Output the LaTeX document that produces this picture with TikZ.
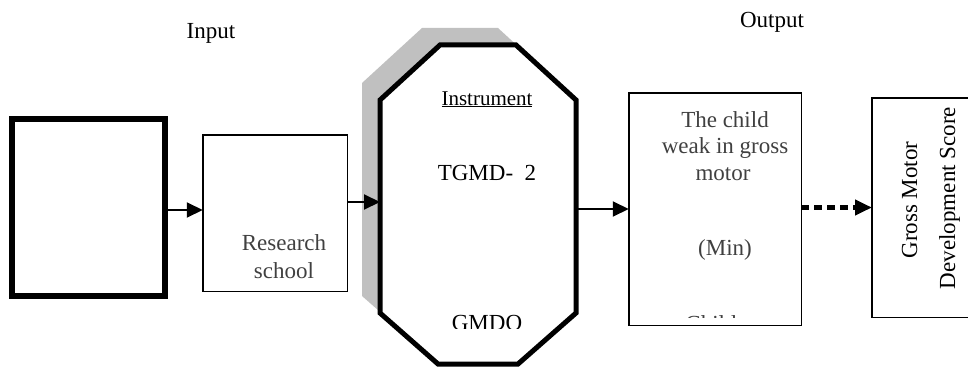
\documentclass[tikz,border=0pt]{standalone}
\usepackage{fontspec}
\setmainfont{Liberation Serif}
\usetikzlibrary{arrows.meta}
\definecolor{shadowgray}{HTML}{C0C0C0}
\begin{document}
\begin{tikzpicture}[x=1pt,y=-1pt,
  every node/.style={inner sep=0pt, outer sep=0pt},
  thickbox/.style={draw, line width=6pt, fill=white},
  thinbox/.style={draw, line width=1.5pt},
  lbl/.style={font=\fontsize{23}{27}\selectfont, anchor=base},
  boxtxt/.style={lbl, text=black!75},
  conn/.style={line width=2pt, -{Triangle[length=16pt,width=15pt]}},
  dotconn/.style={line width=5pt, dash pattern=on 8pt off 5pt, -{Triangle[length=17pt,width=15pt]}}]
\clip (0,0) rectangle (968,369);

% labels
\node[lbl] (inlbl) at (211,39) {Input};
\node[lbl] (outlbl) at (772,28) {Output};

% left boxes
\node[thickbox, minimum width=153pt, minimum height=177pt] (inbox) at (88.5,207.5) {};
\node[thinbox, minimum width=144.5pt, minimum height=156.5pt] (school) at (275,213) {};
\node[boxtxt] (t1) at (284,250) {Research};
\node[boxtxt] (t2) at (284,278) {school};

% octagon
\node[minimum width=196pt, minimum height=319pt] (oct) at (478,204.5) {};
\fill[shadowgray, shift={(-18,-17)}] (440,45) -- (516,45) -- (576,100) -- (576,313) -- (518,364) -- (438,364) -- (380,313) -- (380,100) -- cycle;
\draw[line width=5pt, fill=white, line join=miter] (440,45) -- (516,45) -- (576,100) -- (576,313) -- (518,364) -- (438,364) -- (380,313) -- (380,100) -- cycle;
\node[lbl, font=\fontsize{21}{25}\selectfont] (instr) at (487,105) {\underline{Instrument}};
\node[lbl] (tgmd) at (487,180) {TGMD-\ \ 2};
\begin{scope}
  \clip (380,0) rectangle (576,328);
  \node[lbl] (gmdo) at (487,330) {GMDO};
\end{scope}

% output box
\node[thinbox, minimum width=172.5pt, minimum height=232.5pt] (outbox) at (715,209) {};
\node[boxtxt] (o1) at (725,127) {The child};
\node[boxtxt] (o2) at (725,153) {weak in gross};
\node[boxtxt] (o3) at (723,180) {motor};
\node[boxtxt] (o4) at (725,255) {(Min)};
\begin{scope}
  \clip (630,0) rectangle (800,317);
  \node[boxtxt] (o5) at (711,331) {Child};
\end{scope}

% right box
\node[thinbox, minimum width=120pt, minimum height=219.5pt] (score) at (932,207.5) {};
\node[lbl, rotate=90] (s1) at (917,200) {Gross Motor};
\node[lbl, rotate=90] (s2) at (955,198) {Development Score};

% connectors
\coordinate (a1s) at ([yshift=-2.5pt]inbox.east);
\draw[conn] (a1s) -- (a1s -| school.west);
\coordinate (a2s) at ([yshift=11pt]school.east);
\draw[conn] (a2s) -- (a2s -| oct.west);
\draw[conn] (oct.east |- outbox.west) -- (outbox.west);
\draw[dotconn] (outbox.east |- score.west) -- (score.west);
\end{tikzpicture}
\end{document}
